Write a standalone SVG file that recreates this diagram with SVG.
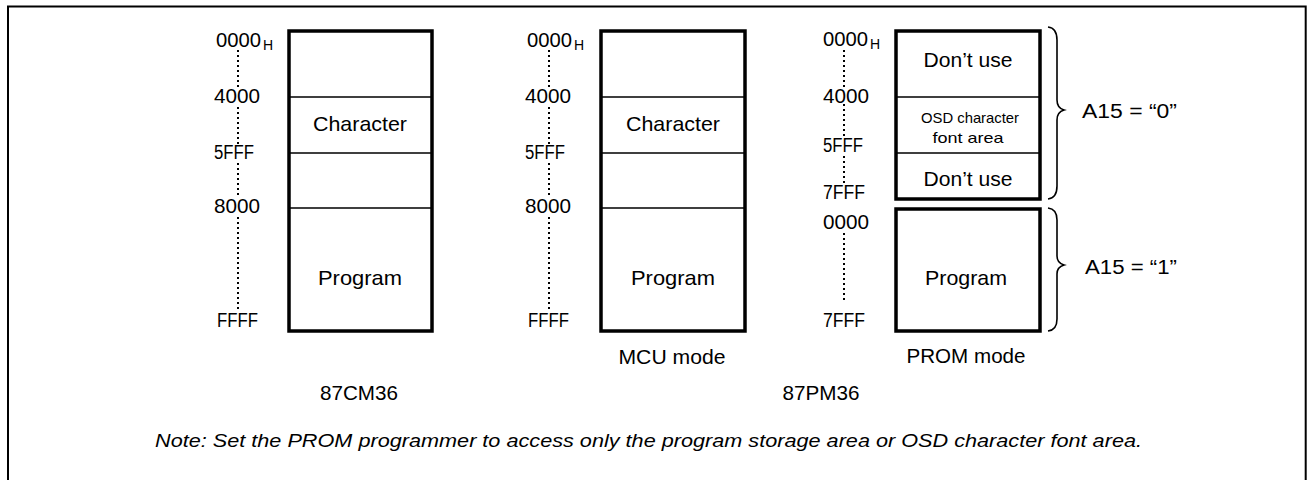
<svg xmlns="http://www.w3.org/2000/svg" width="1307" height="480" viewBox="0 0 1307 480">
<style>
text{font-family:"Liberation Sans",Arial,sans-serif;fill:#000}
.a{font-size:20px}
.sub{font-size:14px}
.l{font-size:21px;text-anchor:middle}
.s{font-size:15px;text-anchor:middle}
.n{font-size:19px;font-style:italic}
.box{fill:#fff;stroke:#000;stroke-width:3.5}
.div{stroke:#000;stroke-width:1.6;fill:none}
.dot{stroke:#000;stroke-width:2;stroke-dasharray:2 3;fill:none}
.brace{stroke:#000;stroke-width:1.6;fill:none}
</style>
<path d="M8,490V6.5H1305.7V490" fill="none" stroke="#000" stroke-width="2"/>

<g id="connectors">
<path class="dot" d="M238,50V90M238,107V144M238,163V198M238,217V312"/>
<path class="dot" d="M549,50V90M549,107V144M549,163V198M549,217V312"/>
<path class="dot" d="M844,50V87M844,104V138M844,156V183M844,233V303"/>
<path id="brace0" class="brace" d="M1048,27Q1057,28 1057,40V100Q1057,108 1064,110Q1057,112 1057,120V186Q1057,198 1048,199"/>
<path id="brace1" class="brace" d="M1048,208Q1057,209 1057,220V256Q1057,263 1064,265Q1057,267 1057,274V319Q1057,330 1048,331"/>
</g>

<g id="addr87CM36">
<text class="a" x="216" y="47" textLength="45" lengthAdjust="spacingAndGlyphs">0000</text><text class="sub" x="263" y="50">H</text>
<text class="a" x="214" y="103" textLength="46" lengthAdjust="spacingAndGlyphs">4000</text>
<text class="a" x="214" y="159" textLength="40" lengthAdjust="spacingAndGlyphs">5FFF</text>
<text class="a" x="214" y="213" textLength="46" lengthAdjust="spacingAndGlyphs">8000</text>
<text class="a" x="217" y="327" textLength="41" lengthAdjust="spacingAndGlyphs">FFFF</text>
</g>
<g id="map87CM36">
<rect class="box" x="289" y="31" width="143" height="300"/>
<path class="div" d="M289,97H432M289,153H432M289,208H432"/>
<text class="l" x="360" y="131" textLength="94" lengthAdjust="spacingAndGlyphs">Character</text>
<text class="l" x="360" y="285" textLength="84" lengthAdjust="spacingAndGlyphs">Program</text>
</g>
<g id="label87CM36"><text class="l" x="359" y="400" textLength="78" lengthAdjust="spacingAndGlyphs">87CM36</text></g>

<g id="addrMCU">
<text class="a" x="527" y="47" textLength="45" lengthAdjust="spacingAndGlyphs">0000</text><text class="sub" x="574" y="50">H</text>
<text class="a" x="525" y="103" textLength="46" lengthAdjust="spacingAndGlyphs">4000</text>
<text class="a" x="525" y="159" textLength="40" lengthAdjust="spacingAndGlyphs">5FFF</text>
<text class="a" x="525" y="213" textLength="46" lengthAdjust="spacingAndGlyphs">8000</text>
<text class="a" x="528" y="327" textLength="41" lengthAdjust="spacingAndGlyphs">FFFF</text>
</g>
<g id="mapMCU">
<rect class="box" x="601" y="31" width="144" height="300"/>
<path class="div" d="M601,97H745M601,153H745M601,208H745"/>
<text class="l" x="673" y="131" textLength="94" lengthAdjust="spacingAndGlyphs">Character</text>
<text class="l" x="673" y="285" textLength="84" lengthAdjust="spacingAndGlyphs">Program</text>
<text class="l" x="672" y="364" textLength="107" lengthAdjust="spacingAndGlyphs">MCU mode</text>
</g>

<g id="addrPROM">
<text class="a" x="823" y="46" textLength="45" lengthAdjust="spacingAndGlyphs">0000</text><text class="sub" x="870" y="49">H</text>
<text class="a" x="823" y="103" textLength="46" lengthAdjust="spacingAndGlyphs">4000</text>
<text class="a" x="823" y="152" textLength="40" lengthAdjust="spacingAndGlyphs">5FFF</text>
<text class="a" x="823" y="199" textLength="42" lengthAdjust="spacingAndGlyphs">7FFF</text>
<text class="a" x="823" y="229" textLength="46" lengthAdjust="spacingAndGlyphs">0000</text>
<text class="a" x="823" y="327" textLength="42" lengthAdjust="spacingAndGlyphs">7FFF</text>
</g>
<g id="mapPROM">
<rect class="box" x="896" y="31" width="144" height="168"/>
<path class="div" d="M896,97H1040M896,153H1040"/>
<text class="l" x="968" y="67" textLength="89" lengthAdjust="spacingAndGlyphs">Don’t use</text>
<text class="s" x="970" y="123" textLength="98" lengthAdjust="spacingAndGlyphs">OSD character</text>
<text class="s" x="968" y="143" textLength="71" lengthAdjust="spacingAndGlyphs">font area</text>
<text class="l" x="968" y="186" textLength="89" lengthAdjust="spacingAndGlyphs">Don’t use</text>
<rect class="box" x="896" y="209" width="144" height="122"/>
<text class="l" x="966" y="285" textLength="82" lengthAdjust="spacingAndGlyphs">Program</text>
<text class="l" x="966" y="363" textLength="119" lengthAdjust="spacingAndGlyphs">PROM mode</text>
</g>
<g id="label87PM36"><text class="l" x="821" y="400" textLength="77" lengthAdjust="spacingAndGlyphs">87PM36</text></g>

<g id="a15-0"><text class="a" x="1082" y="118" textLength="95" lengthAdjust="spacingAndGlyphs">A15 = “0”</text></g>
<g id="a15-1"><text class="a" x="1085" y="274" textLength="92" lengthAdjust="spacingAndGlyphs">A15 = “1”</text></g>

<g id="note"><text class="n" x="155" y="447" textLength="987" lengthAdjust="spacingAndGlyphs">Note: Set the PROM programmer to access only the program storage area or OSD character font area.</text></g>
</svg>
